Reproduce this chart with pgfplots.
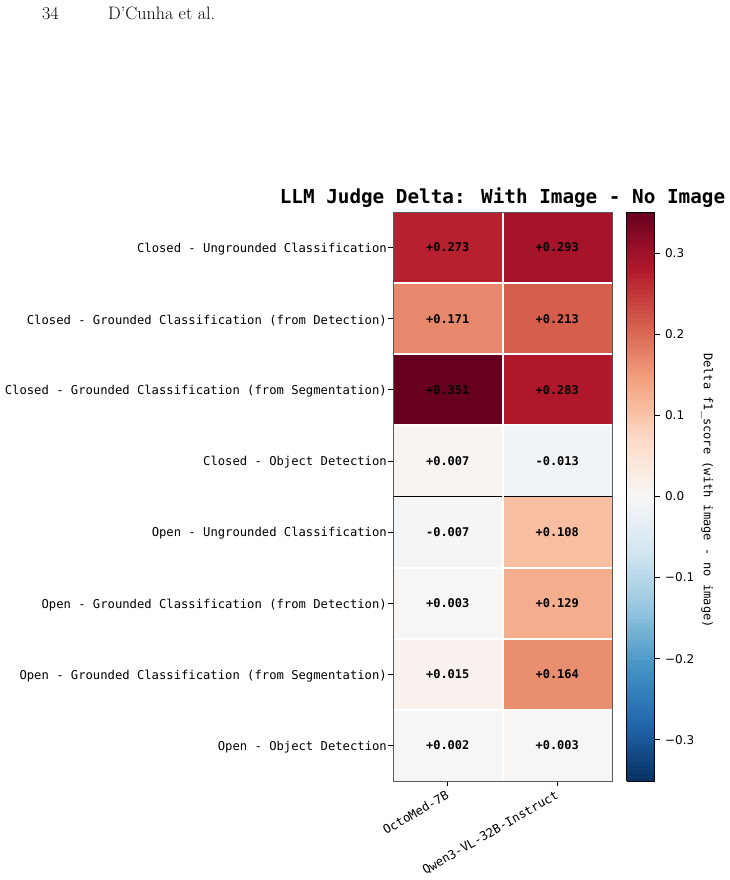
\documentclass[border=0pt]{standalone}
\usepackage{fontspec}
\usepackage{pgfplots}
\usepackage{pgfplotstable}
\pgfplotsset{compat=1.18}
\newfontfamily\mono{DejaVu Sans Mono}
\newfontfamily\dvs{DejaVu Sans}
\pgfplotstableread{
x y c
0 0 0.273
1 0 0.293
0 1 0.171
1 1 0.213
0 2 0.351
1 2 0.283
0 3 0.007
1 3 -0.013
0 4 -0.007
1 4 0.108
0 5 0.003
1 5 0.129
0 6 0.015
1 6 0.164
0 7 0.002
1 7 0.003
}\heat
\pgfplotstableread{
x y lab
0 0 +0.273
1 0 +0.293
0 1 +0.171
1 1 +0.213
0 2 +0.351
1 2 +0.283
0 3 +0.007
1 3 -0.013
0 4 -0.007
1 4 +0.108
0 5 +0.003
1 5 +0.129
0 6 +0.015
1 6 +0.164
0 7 +0.002
1 7 +0.003
}\labs
\begin{document}
\begin{tikzpicture}[x=1pt,y=1pt]
\useasboundingbox (0,0) rectangle (730,880);
\node[anchor=base west, font=\fontsize{18}{20}\selectfont, inner sep=0] at (42,860) {34};
\node[anchor=base west, font=\fontsize{18}{20}\selectfont, inner sep=0] at (108,860) {D'Cunha et al.};
\node[anchor=base, font=\mono\bfseries\fontsize{19.3}{22}\selectfont, inner sep=0] at (502.5,676) {LLM Judge Delta: With Image - No Image};
\begin{axis}[
  at={(393pt,99pt)}, anchor=south west,
  scale only axis, width=219pt, height=569pt,
  xmin=-0.5, xmax=1.5, ymin=-0.5, ymax=7.5,
  y dir=reverse, enlargelimits=false,
  axis on top,
  axis line style={black!65, line width=0.9pt},
  colormap={rdbur}{rgb255=(5,48,97) rgb255=(33,102,172) rgb255=(67,147,195) rgb255=(146,197,222) rgb255=(209,229,240) rgb255=(247,247,247) rgb255=(253,219,199) rgb255=(244,165,130) rgb255=(214,96,77) rgb255=(178,24,43) rgb255=(103,0,31)},
  point meta min=-0.351, point meta max=0.351,
  xtick={0,1}, xticklabels={OctoMed-7B,Qwen3-VL-32B-Instruct},
  ytick={0,...,7},
  yticklabels={Closed - Ungrounded Classification,
    Closed - Grounded Classification (from Detection),
    Closed - Grounded Classification (from Segmentation),
    Closed - Object Detection,
    Open - Ungrounded Classification,
    Open - Grounded Classification (from Detection),
    Open - Grounded Classification (from Segmentation),
    Open - Object Detection},
  tick label style={font=\mono\fontsize{12.2}{14}\selectfont},
  xticklabel style={rotate=30, anchor=north east, inner sep=2pt, xshift=-2pt},
  yticklabel style={inner sep=2pt, yshift=-1.5pt, xshift=1pt},
  xtick pos=bottom, ytick pos=left, tick align=outside,
  major tick length=5pt,
  tick style={black, line width=0.8pt},
  minor xtick={0.5}, minor ytick={0.5,1.5,2.5,4.5,5.5,6.5},
  minor tick length=0pt,
  minor grid style={white, line width=2pt},
  xminorgrids=true, yminorgrids=true,
  colorbar sampled,
  colorbar style={
    at={(parent axis.north east)}, anchor=north west, xshift=6pt,
    width=28pt,
    samples=141,
    y dir=normal,
    minor xtick={}, minor ytick={}, xminorgrids=false, yminorgrids=false,
    ytick={-0.3,-0.2,-0.1,0,0.1,0.2,0.3},
    yticklabels={−0.3,−0.2,−0.1,0.0,0.1,0.2,0.3},
    yticklabel style={font=\dvs\fontsize{12}{14}\selectfont, xshift=2pt, yshift=0pt},
    ytick pos=right, yticklabel pos=right, tick align=outside,
    major tick length=5pt,
    tick style={black, line width=0.8pt},
    axis line style={black, line width=0.8pt},
    ylabel={Delta f1\_score (with image - no image)},
    ylabel style={rotate=180, font=\mono\fontsize{12}{14}\selectfont, xshift=-6pt},
  },
]
\addplot[matrix plot*, mesh/cols=2, point meta=explicit] table[meta=c] {\heat};
\addplot[only marks, mark=none, nodes near coords, point meta=explicit symbolic,
  nodes near coords align=center,
  every node near coord/.append style={font=\mono\bfseries\fontsize{12}{14}\selectfont, black}]
  table[meta=lab] {\labs};
\draw[black, line width=1.3pt] (axis cs:-0.5,3.5) -- (axis cs:1.5,3.5);
\end{axis}
\end{tikzpicture}
\end{document}
